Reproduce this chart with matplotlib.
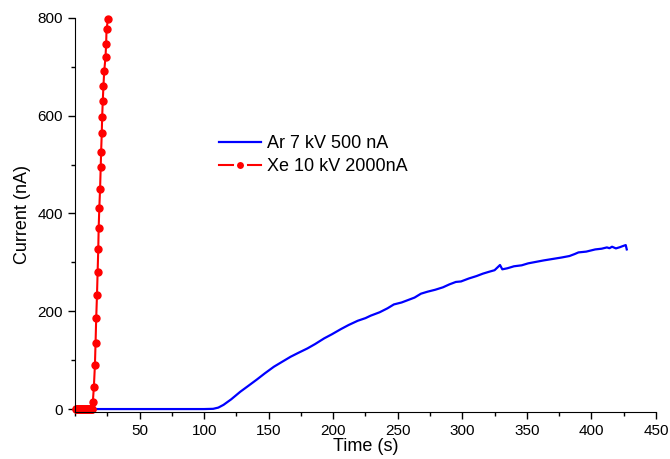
import matplotlib
matplotlib.use("Agg")
import matplotlib.pyplot as plt
from matplotlib.ticker import MultipleLocator
from matplotlib.legend_handler import HandlerLine2D

# Ar 7 kV 500 nA
ar_time = [0, 20, 40, 60, 80, 100, 107, 111, 115, 121, 128, 134, 141, 147, 154,
           160, 167, 173, 180, 186, 193, 199, 206, 212, 219, 225, 229, 236, 242,
           247, 253, 258, 263, 268, 273, 279, 285, 290, 295, 299, 305, 311, 316,
           321, 325, 327, 329.2, 331, 335, 340, 346, 351, 357, 363, 370, 377, 383,
           387, 390, 396, 403, 408, 412, 414, 416, 419, 422, 424, 426.6, 427.4]
ar_current = [0, 0, 0, 0, 0, 0, 0.5, 3, 8.6, 20, 35.4, 47, 60.7, 73, 86.5,
              96, 107, 115, 124, 133, 144.6, 153, 163.6, 172, 180.6, 186, 191, 198, 206,
              214, 218, 223, 228, 236, 240, 244, 249, 255, 260, 261, 267, 272, 277,
              281, 284, 289, 294.6, 285.8, 288, 292, 294, 298, 301, 304, 307, 310, 313,
              317, 320.4, 322, 326.5, 328, 330.6, 329, 332, 328.6, 331, 333, 335.4, 326.5]

# Xe 10 kV 2000nA
xe_time = [0.5, 1.0, 1.5, 2.0, 2.5, 3.0, 3.5, 4.0, 4.5, 5.0, 5.5, 6.0, 6.5, 7.0,
           7.5, 8.0, 8.5, 9.0, 9.5, 10.0, 10.5, 11.0, 11.5, 12.0, 12.5, 13.0, 13.5,
           13.8, 14.6, 15.4, 15.9, 16.4, 17.0, 17.5, 18.0, 18.3, 18.8, 19.4, 19.9,
           20.2, 20.7, 21.0, 21.5, 22.0, 22.6, 23.6, 24.1, 24.4, 25.5]
xe_current = [0, 0, 0, 0, 0, 0, 0, 0, 0, 0, 0, 0, 0, 0,
              0, 0, 0, 0, 0, 0, 0, 0, 0, 0, 0, 0, 0,
              15, 46, 90, 136, 186, 233, 281, 328, 370, 411, 451,
              496, 526, 564, 597, 631, 661, 691, 720, 747, 777, 797]

plt.rcParams['font.family'] = ['Liberation Sans', 'DejaVu Sans']

fig = plt.figure(figsize=(6.7, 4.59), dpi=100)
ax = fig.add_axes([0.112, 0.1024, 0.867, 0.8586])

ax.plot(ar_time, ar_current, color='#0000FF', lw=1.6, label='Ar 7 kV 500 nA')
ax.plot(xe_time, xe_current, color='#FF0000', lw=1.5, marker='o', markersize=5,
        label='Xe 10 kV 2000nA', clip_on=False)

ax.set_xlim(0, 450)
ax.set_ylim(-6, 800)
ax.xaxis.set_minor_locator(MultipleLocator(25))
ax.yaxis.set_minor_locator(MultipleLocator(100))
ax.set_xticks(range(50, 451, 50))
ax.set_yticks(range(0, 801, 200))

for side in ['top', 'right']:
    ax.spines[side].set_visible(False)
ax.tick_params(which='major', direction='out', length=5, width=1, labelsize=11)
ax.tick_params(which='minor', direction='out', length=3, width=1)

ax.set_xlabel('Time (s)', fontsize=13, labelpad=0)
ax.set_ylabel('Current (nA)', fontsize=13, labelpad=5)


def gap_marker(legline, orig):
    # legend marker sits in a small gap of the line, as in the source plot
    legline.update_from(orig)
    legline.set_markeredgecolor('white')
    legline.set_markeredgewidth(2.2)
    legline.set_markersize(7.2)


leg = ax.legend(loc='upper left', bbox_to_anchor=(219 / 670, 1 - 135 / 459),
                bbox_transform=fig.transFigure, frameon=False, fontsize=13,
                handlelength=2.35, handletextpad=0.3, labelspacing=0.35,
                borderaxespad=0, borderpad=0,
                handler_map={ax.lines[1]: HandlerLine2D(update_func=gap_marker)})

fig.savefig('out.png', dpi=100)
